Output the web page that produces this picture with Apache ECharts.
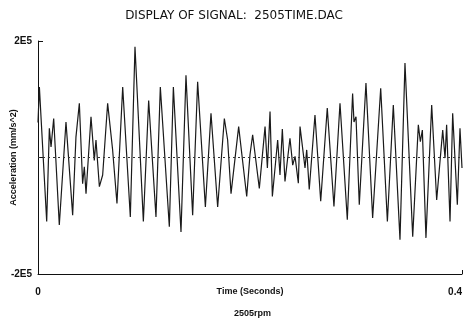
<!DOCTYPE html>
<html>
<head>
<meta charset="utf-8">
<script src="https://cdn.jsdelivr.net/npm/echarts@6/dist/echarts.min.js"></script>
<style>
  html, body { margin: 0; padding: 0; background: #fff; }
  #chart1 { width: 468px; height: 326px; }
</style>
</head>
<body>
<div id="chart1"></div>
<script>
// time in seconds
var timeSec = [
  0, 0.0013, 0.0082, 0.0107, 0.0123, 0.0148, 0.0201, 0.0264, 0.0327, 0.0358,
  0.0390, 0.0421, 0.0437, 0.0453, 0.0500, 0.0531, 0.0547, 0.0579, 0.0610, 0.0657,
  0.0704, 0.0745, 0.0799, 0.0871, 0.0915, 0.0994, 0.1044, 0.1113, 0.1154, 0.1239,
  0.1277, 0.1349, 0.1396, 0.1459, 0.1506, 0.1579, 0.1632, 0.1695, 0.1758, 0.1789,
  0.1821, 0.1893, 0.1969, 0.2000,
  0.2025, 0.2088, 0.2142, 0.2164, 0.2189, 0.2211, 0.2261, 0.2283, 0.2305, 0.2330,
  0.2377, 0.2403, 0.2425, 0.2456, 0.2472, 0.2519, 0.2535, 0.2559, 0.2613, 0.2667,
  0.2729, 0.2792, 0.2849, 0.2918, 0.2968, 0.2981, 0.3000, 0.3031, 0.3094, 0.3157,
  0.3233, 0.3296, 0.3352, 0.3415, 0.3462, 0.3535, 0.3588, 0.3607, 0.3626, 0.3660,
  0.3714, 0.3761, 0.3818, 0.3840, 0.3855, 0.3887, 0.3912, 0.3956, 0.3981, 0.4000
];
// acceleration (mm/s^2)
var accel = [
  60000, 121000, -110000, 50000, 18000, 67000, -116000, 61000, -99000, 35000,
  93000, -45000, -16000, -62000, 70000, -5000, 30000, -50000, -30000, 93000,
  13000, -79000, 121000, -102000, 190000, -110000, 98000, -102000, 121000, -119000,
  121000, -128000, 141000, -99000, 130000, -85000, 76000, -85000, 67000, 30000,
  -62000, 53000, -67000, 5000,
  39000, -53000, 53000, -18000, 79000, -67000, 30000, -30000, 49000, -41000,
  33000, -13000, 2000, -44000, 53000, -18000, 13000, -55000, 73000, -75000,
  85000, -84000, 93000, -107000, 110000, 61000, 70000, -81000, 128000, -104000,
  119000, -110000, 90000, -141000, 162000, -136000, 56000, 27000, 47000, -138000,
  90000, -73000, 47000, -1000, 56000, -110000, 76000, -81000, 50000, -18000
];
var yTicks = ['-2E5', '', '2E5'];

var points = [];
for (var i = 0; i < timeSec.length; i++) {
  points.push([timeSec[i], accel[i]]);
}

var labelFont = 'Liberation Sans, Arial, sans-serif';

var option = {
  animation: false,
  backgroundColor: '#fff',
  title: [{
    text: 'DISPLAY OF SIGNAL:  2505TIME.DAC',
    left: 'center',
    top: 5,
    textStyle: { fontSize: 12, fontWeight: 'normal', color: '#111', fontFamily: 'DejaVu Sans, sans-serif' }
  }, {
    text: '2505rpm',
    left: 229,
    top: 304,
    textStyle: { fontSize: 9, fontWeight: 'bold', color: '#111', fontFamily: labelFont }
  }],
  grid: { left: 38, right: 6, top: 41, bottom: 52, outerBoundsMode: 'none', containLabel: false },
  xAxis: {
    type: 'value',
    min: 0,
    max: 0.4,
    interval: 0.4,
    name: 'Time (Seconds)',
    nameLocation: 'middle',
    nameGap: 13,
    nameMoveOverlap: false,
    nameTextStyle: { fontSize: 9, fontWeight: 'bold', color: '#111', fontFamily: labelFont },
    axisLine: { onZero: false, lineStyle: { color: '#111', width: 1 } },
    axisTick: { show: true, inside: true, length: 4, lineStyle: { color: '#111' } },
    axisLabel: {
      margin: 13, fontSize: 10, fontWeight: 'bold', color: '#111', fontFamily: labelFont,
      alignMaxLabel: 'right',
      formatter: function (v) { return v === 0 ? '0' : String(v); }
    },
    splitLine: { show: false }
  },
  yAxis: {
    type: 'value',
    min: -200000,
    max: 200000,
    interval: 200000,
    name: 'Acceleration (mm/s^2)',
    nameLocation: 'middle',
    nameGap: 20,
    nameMoveOverlap: false,
    nameTextStyle: { fontSize: 9, fontWeight: 'bold', color: '#111', fontFamily: labelFont },
    axisLine: { show: true, onZero: false, lineStyle: { color: '#111', width: 1 } },
    axisTick: { show: true, inside: true, length: 5, lineStyle: { color: '#111' } },
    axisLabel: {
      margin: 6, fontSize: 10, fontWeight: 'bold', color: '#111', fontFamily: labelFont,
      formatter: function (v, idx) { return yTicks[idx]; }
    },
    splitLine: { show: false }
  },
  series: [{
    type: 'line',
    data: points,
    showSymbol: false,
    lineStyle: { color: '#1a1a1a', width: 1.2 },
    markLine: {
      silent: true,
      symbol: ['none', 'none'],
      label: { show: false },
      lineStyle: { color: '#333', type: [2, 3], width: 1 },
      data: [{ yAxis: 0 }]
    }
  }]
};

var myChart = echarts.init(document.getElementById('chart1'));
myChart.setOption(option);
</script>
</body>
</html>
